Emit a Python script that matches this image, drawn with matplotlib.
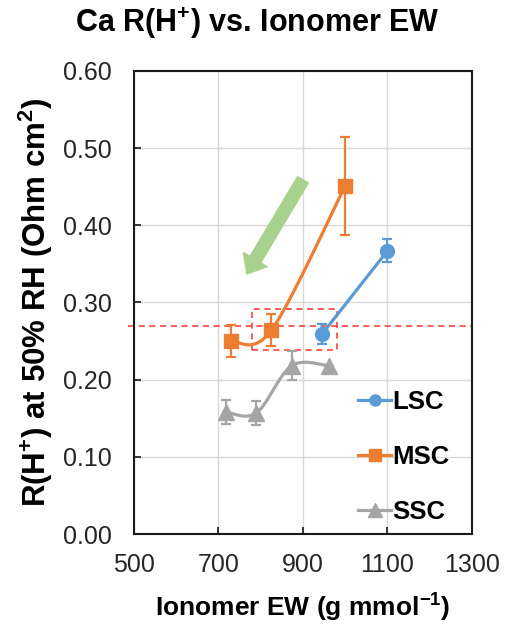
import numpy as np
import matplotlib
matplotlib.use("Agg")
import matplotlib.pyplot as plt
from matplotlib.patches import Rectangle

plt.rcParams['font.family'] = ['Liberation Sans', 'DejaVu Sans']
plt.rcParams['mathtext.fontset'] = 'custom'
plt.rcParams['mathtext.rm'] = 'Liberation Sans'
plt.rcParams['mathtext.bf'] = 'Liberation Sans:bold'

# ionomer EW (g/mmol), R(H+) at 50% RH (Ohm cm2), error
lsc_ew = [945, 1100]
lsc_r = [0.259, 0.367]
lsc_err = [0.013, 0.015]

msc_ew = [730, 825, 1000]
msc_r = [0.250, 0.264, 0.451]
msc_err = [0.021, 0.021, 0.064]

ssc_ew = [718, 790, 873, 962]
ssc_r = [0.158, 0.157, 0.218, 0.218]
ssc_err = [0.016, 0.016, 0.019, 0.0]

ref_line = 0.27
box_ew = (779, 981)
box_r = (0.238, 0.291)

XLIM = (500, 1300)
YLIM = (0.0, 0.6)


def smooth(x, y, ax_w=338.0, ax_h=463.0, n=40):
    # excel-style smoothed line: catmull-rom bezier built in screen space
    px = (np.asarray(x, float) - XLIM[0]) / (XLIM[1] - XLIM[0]) * ax_w
    py = (np.asarray(y, float) - YLIM[0]) / (YLIM[1] - YLIM[0]) * ax_h
    P = np.column_stack([px, py])
    ext = np.vstack([P[0], P, P[-1]])
    t = np.linspace(0, 1, n)[:, None]
    out = []
    for i in range(len(P) - 1):
        p0, p1, p2, p3 = ext[i], ext[i + 1], ext[i + 2], ext[i + 3]
        c1 = p1 + (p2 - p0) / 6.0
        c2 = p2 - (p3 - p1) / 6.0
        seg = ((1 - t) ** 3) * p1 + 3 * ((1 - t) ** 2) * t * c1 + 3 * (1 - t) * t ** 2 * c2 + t ** 3 * p2
        out.append(seg if i == 0 else seg[1:])
    out = np.vstack(out)
    sx = out[:, 0] / ax_w * (XLIM[1] - XLIM[0]) + XLIM[0]
    sy = out[:, 1] / ax_h * (YLIM[1] - YLIM[0]) + YLIM[0]
    return sx, sy


fig = plt.figure(figsize=(5.10, 6.27), dpi=100)
ax = fig.add_axes([0.2627, 0.1483, 0.6627, 0.7385])

series = [
    ('LSC', lsc_ew, lsc_r, lsc_err, '#5B9BD5', 'o', 10),
    ('MSC', msc_ew, msc_r, msc_err, '#ED7D31', 's', 10),
    ('SSC', ssc_ew, ssc_r, ssc_err, '#A5A5A5', '^', 12),
]
for name, x, y, e, c, m, ms in series:
    sx, sy = smooth(x, y)
    ax.plot(sx, sy, color=c, lw=2.3, zorder=3)
    ax.errorbar(x, y, yerr=e, fmt='none', ecolor=c, elinewidth=1.6,
                capsize=3.5, capthick=1.6, zorder=4)
    ax.plot(x, y, ls='none', marker=m, ms=ms, color=c, mec=c, zorder=5)
    ax.plot([], [], color=c, lw=2.3, marker=m, ms=ms * 0.8, label=name)

# reference level and highlighted region
ax.plot([486, 1300], [ref_line, ref_line], color='#FF3030', lw=1.1,
        ls=(0, (4, 3)), clip_on=False, zorder=2)
ax.add_patch(Rectangle((box_ew[0], box_r[0]), box_ew[1] - box_ew[0],
                       box_r[1] - box_r[0], fill=False, edgecolor='#FF3030',
                       lw=1.1, ls=(0, (4, 3)), zorder=2))

# trend arrow
ax.annotate('', xy=(767, 0.337), xytext=(900, 0.459),
            arrowprops=dict(arrowstyle='simple,head_length=1.2,head_width=2.0,tail_width=0.9',
                            color='#A9D18E', mutation_scale=10,
                            shrinkA=0, shrinkB=0), zorder=2)

ax.set_xlim(*XLIM)
ax.set_ylim(*YLIM)
ax.set_xticks(np.arange(500, 1301, 200))
ax.set_yticks(np.arange(0, 0.61, 0.1))
ax.yaxis.set_major_formatter(matplotlib.ticker.FormatStrFormatter('%.2f'))
ax.grid(True, color='#D9D9D9', lw=1)
ax.set_axisbelow(True)
ax.tick_params(direction='in', length=5, width=1.3, labelsize=18, colors='#262626')
ax.tick_params(axis='y', pad=16)
ax.tick_params(axis='x', pad=14)
for sp in ax.spines.values():
    sp.set_linewidth(1.5)
    sp.set_color('#1a1a1a')

ax.set_xlabel('Ionomer EW (g mmol$^{\\mathbf{-1}}$)', fontsize=19, fontweight='bold', labelpad=9)
ax.set_ylabel('R(H$^{\\mathbf{+}}$) at 50% RH (Ohm cm$^{\\mathbf{2}}$)', fontsize=22.5,
              fontweight='bold', labelpad=6)
fig.text(0.505, 0.963, 'Ca R(H$^{\\mathbf{+}}$) vs. Ionomer EW', ha='center', va='center',
         fontsize=22, fontweight='bold')

ax.legend(loc='lower right', bbox_to_anchor=(0.965, 0.0), frameon=False,
          prop={'size': 18.5, 'weight': 'bold'}, handlelength=1.3,
          handletextpad=0.05, labelspacing=1.2, borderaxespad=0.0)

fig.savefig('out.png', dpi=100)
